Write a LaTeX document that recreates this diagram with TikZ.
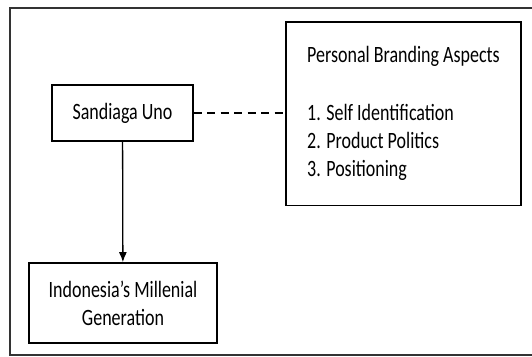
\documentclass[tikz,border=0pt]{standalone}
\usepackage{fontspec}
\setmainfont{Carlito}
\usetikzlibrary{arrows.meta}

\begin{document}
\begin{tikzpicture}[x=1pt, y=-1pt,
  boxnode/.style={draw, line width=1.3pt, yscale=1.3, inner sep=0pt,
    font=\fontsize{18}{21.5}\selectfont}]
\useasboundingbox (0,0) rectangle (532,356);

%outer frame, open on the right
\draw[line width=2pt, black!80] (532,8) -- (10,8) -- (10,355) -- (532,355);

\node[boxnode, minimum width=141pt, minimum height=43pt] at (122.5,113) (sandiaga) {Sandiaga Uno};
\node[boxnode, minimum width=235pt, minimum height=141pt, align=left] at (403.5,113.5) (aspects)
  {Personal Branding Aspects\\[23pt]1. Self Identification\\2. Product Politics\\3. Positioning};
\node[boxnode, minimum width=188pt, minimum height=61.5pt, align=center] at (123,303) (millenial)
  {Indonesia’s Millenial\\Generation};

%influence on the millenials
\draw[arrows={-Latex[length=10pt, width=8pt]}, line width=1.3pt] (sandiaga) to (millenial);
%link to the aspects
\draw[line width=1.8pt, dash pattern=on 8pt off 5.5pt] (sandiaga) to (aspects.west |- sandiaga.east);

\end{tikzpicture}
\end{document}
